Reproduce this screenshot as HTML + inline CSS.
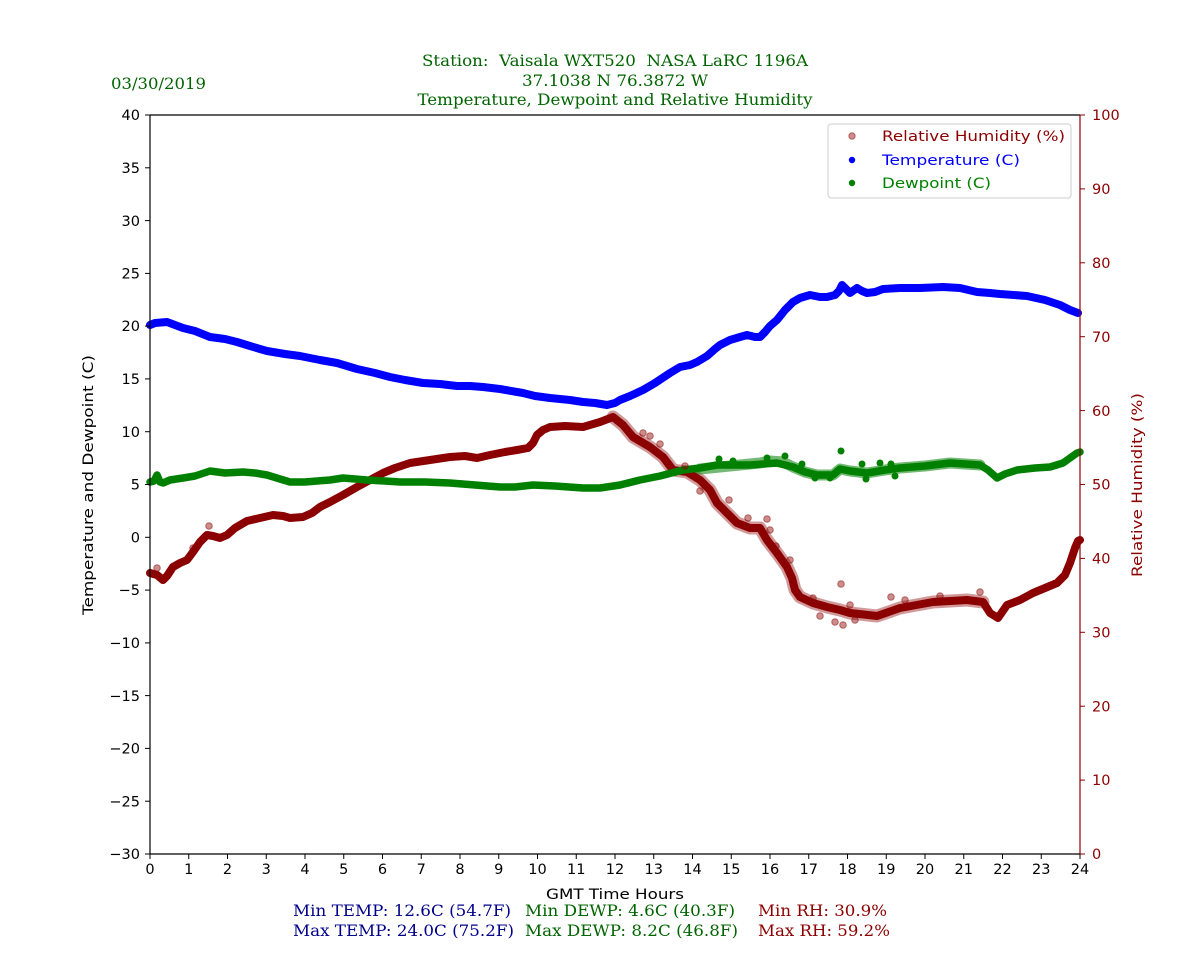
<!DOCTYPE html>
<html>
<head>
<meta charset="utf-8">
<style>
html,body{margin:0;padding:0;background:#fff;}
svg{display:block;}
.tk{font-family:"DejaVu Sans","Liberation Sans",sans-serif;font-size:14.5px;}
.sf{font-family:"DejaVu Serif","Liberation Serif",serif;font-size:16px;}
</style>
</head>
<body>
<svg width="1200" height="960" viewBox="0 0 1200 960" xmlns="http://www.w3.org/2000/svg">
<rect width="1200" height="960" fill="#fff"/>

<!-- Titles -->
<g class="sf" fill="#006400">
<text x="615" y="66" text-anchor="middle" textLength="386" lengthAdjust="spacingAndGlyphs">Station:&#160; Vaisala WXT520&#160; NASA LaRC 1196A</text>
<text x="615" y="86" text-anchor="middle" textLength="186" lengthAdjust="spacingAndGlyphs">37.1038 N 76.3872 W</text>
<text x="615" y="105" text-anchor="middle" textLength="395" lengthAdjust="spacingAndGlyphs">Temperature, Dewpoint and Relative Humidity</text>
<text x="111" y="89" textLength="95" lengthAdjust="spacingAndGlyphs">03/30/2019</text>
</g>

<!-- Data -->
<g fill="none" stroke-linejoin="round" stroke-linecap="round">
<!-- RH halo (noisy region) -->
<polyline stroke="#8B0000" stroke-opacity="0.4" stroke-width="13" points="613,417 623,425 633,437 650,447 663,457 673,470 687,472 700,480 710,490 717,503 727,513 737,523 750,528 760,528 767,540 777,553 787,567 792,578 795,590 800,597 813,603 827,607 840,610 850,613 877,616 900,608 933,602 967,600 983,602"/>
<!-- RH -->
<polyline stroke="#8B0000" stroke-width="8" points="150,573 157,575 163,580 167,576 173,567 180,563 187,560 193,552 200,542 207,535 213,536 220,538 227,535 235,528 247,521 260,518 273,515 283,516 290,518 303,517 312,513 320,507 330,502 343,495 357,487 370,480 383,473 395,468 410,463 430,460 450,457 465,456 477,458 490,455 505,452 517,450 528,448 533,443 537,435 543,430 550,427 565,426 583,427 600,422 613,417 623,425 633,437 650,447 663,457 673,470 687,472 700,480 710,490 717,503 727,513 737,523 750,528 760,528 767,540 777,553 787,567 792,578 795,590 800,597 813,603 827,607 840,610 850,613 877,616 900,608 933,602 967,600 983,602 990,613 998,618 1007,605 1020,600 1033,593 1045,588 1057,583 1065,575 1070,563 1075,548 1078,541 1080,540"/>
<!-- Dewpoint halo -->
<polyline stroke="#008000" stroke-opacity="0.55" stroke-width="11" points="700,469 730,466 760,463 770,461 783,462 793,467 805,472 817,475 833,475 840,469 850,471 867,473 885,470 900,468 925,466 950,463 980,465"/>
<!-- Dewpoint -->
<polyline stroke="#008000" stroke-width="7.5" points="150,482 154,481 157,475 160,482 163,483 170,480 183,478 195,476 210,471 225,473 243,472 255,473 267,475 280,479 290,482 305,482 317,481 330,480 343,478 355,479 367,480 385,481 400,482 425,482 450,483 475,485 500,487 515,487 533,485 555,486 583,488 600,488 620,485 640,480 660,476 683,470 700,468 717,465 750,465 777,463 793,467 805,472 817,475 833,475 840,469 850,471 867,473 885,470 900,468 925,466 950,463 980,465 988,470 997,478 1005,474 1017,470 1035,468 1050,467 1063,463 1070,458 1077,453 1080,452"/>
<!-- Temperature -->
<polyline stroke="#0000FF" stroke-width="8" points="150,325 155,323 167,322 175,325 183,328 195,331 210,337 225,339 237,342 250,346 260,349 267,351 285,354 300,356 320,360 337,363 347,366 357,369 375,373 390,377 405,380 423,383 440,384 457,386 470,386 483,387 500,389 523,393 535,396 550,398 570,400 583,402 595,403 607,405 615,403 620,400 630,396 643,390 655,383 670,373 680,367 690,365 697,362 707,356 715,349 720,345 730,340 740,337 747,335 755,337 760,337 765,332 770,326 777,320 785,310 793,302 800,298 810,295 820,297 827,297 835,295 839,291 842,285 846,289 850,293 857,288 862,291 867,293 875,292 883,289 900,288 920,288 943,287 960,288 977,292 990,293 1000,294 1027,296 1045,300 1060,305 1070,310 1078,313"/>
</g>
<!-- scatter extras -->
<g fill="#008000">
<circle cx="841" cy="451" r="3.5"/>
<circle cx="767" cy="458" r="3.5"/>
<circle cx="785" cy="456" r="3.5"/>
<circle cx="719" cy="459" r="3.5"/>
<circle cx="733" cy="461" r="3.5"/>
<circle cx="802" cy="464" r="3.5"/>
<circle cx="866" cy="479" r="3.5"/>
<circle cx="830" cy="478" r="3.5"/>
<circle cx="880" cy="463" r="3.5"/>
<circle cx="891" cy="464" r="3.5"/>
<circle cx="862" cy="464" r="3.5"/>
<circle cx="815" cy="478" r="3.5"/>
<circle cx="895" cy="476" r="3.5"/>
</g>
<g fill="#8B0000" fill-opacity="0.45" stroke="#8B0000" stroke-opacity="0.5" stroke-width="1">
<circle cx="157" cy="568" r="3.3"/>
<circle cx="209" cy="526" r="3.3"/>
<circle cx="193" cy="548" r="3.3"/>
<circle cx="841" cy="584" r="3.3"/>
<circle cx="843" cy="625" r="3.3"/>
<circle cx="729" cy="500" r="3.3"/>
<circle cx="643" cy="433" r="3.3"/>
<circle cx="650" cy="436" r="3.3"/>
<circle cx="891" cy="597" r="3.3"/>
<circle cx="980" cy="592" r="3.3"/>
<circle cx="835" cy="622" r="3.3"/>
<circle cx="855" cy="620" r="3.3"/>
<circle cx="820" cy="616" r="3.3"/>
<circle cx="748" cy="518" r="3.3"/>
<circle cx="767" cy="519" r="3.3"/>
<circle cx="685" cy="466" r="3.3"/>
<circle cx="660" cy="444" r="3.3"/>
<circle cx="813" cy="598" r="3.3"/>
<circle cx="905" cy="600" r="3.3"/>
<circle cx="790" cy="560" r="3.3"/>
<circle cx="776" cy="546" r="3.3"/>
<circle cx="770" cy="530" r="3.3"/>
<circle cx="700" cy="491" r="3.3"/>
<circle cx="850" cy="605" r="3.3"/>
<circle cx="940" cy="596" r="3.3"/>
</g>

<!-- Axes spines -->
<g stroke-width="1.2" fill="none">
<line x1="150" y1="115" x2="1080" y2="115" stroke="#000"/>
<line x1="150" y1="854" x2="1080" y2="854" stroke="#000"/>
<line x1="150" y1="115" x2="150" y2="854" stroke="#000"/>
<line x1="1080" y1="115" x2="1080" y2="854" stroke="#8B0000"/>
</g>

<!-- Left ticks -->
<g stroke="#000" stroke-width="1">
<line x1="145" x2="150" y1="115" y2="115"/>
<line x1="145" x2="150" y1="167.8" y2="167.8"/>
<line x1="145" x2="150" y1="220.6" y2="220.6"/>
<line x1="145" x2="150" y1="273.4" y2="273.4"/>
<line x1="145" x2="150" y1="326.1" y2="326.1"/>
<line x1="145" x2="150" y1="378.9" y2="378.9"/>
<line x1="145" x2="150" y1="431.7" y2="431.7"/>
<line x1="145" x2="150" y1="484.5" y2="484.5"/>
<line x1="145" x2="150" y1="537.3" y2="537.3"/>
<line x1="145" x2="150" y1="590.1" y2="590.1"/>
<line x1="145" x2="150" y1="642.9" y2="642.9"/>
<line x1="145" x2="150" y1="695.6" y2="695.6"/>
<line x1="145" x2="150" y1="748.4" y2="748.4"/>
<line x1="145" x2="150" y1="801.2" y2="801.2"/>
<line x1="145" x2="150" y1="854" y2="854"/>
</g>
<g class="tk" fill="#000" text-anchor="end">
<text x="140" y="120">40</text>
<text x="140" y="173">35</text>
<text x="140" y="226">30</text>
<text x="140" y="278.5">25</text>
<text x="140" y="331">20</text>
<text x="140" y="384">15</text>
<text x="140" y="437">10</text>
<text x="140" y="489.5">5</text>
<text x="140" y="542.5">0</text>
<text x="140" y="595">−5</text>
<text x="140" y="648">−10</text>
<text x="140" y="701">−15</text>
<text x="140" y="753.5">−20</text>
<text x="140" y="806.5">−25</text>
<text x="140" y="859">−30</text>
</g>

<!-- Right ticks -->
<g stroke="#8B0000" stroke-width="1">
<line x1="1080" x2="1085" y1="115" y2="115"/>
<line x1="1080" x2="1085" y1="188.9" y2="188.9"/>
<line x1="1080" x2="1085" y1="262.8" y2="262.8"/>
<line x1="1080" x2="1085" y1="336.7" y2="336.7"/>
<line x1="1080" x2="1085" y1="410.6" y2="410.6"/>
<line x1="1080" x2="1085" y1="484.5" y2="484.5"/>
<line x1="1080" x2="1085" y1="558.4" y2="558.4"/>
<line x1="1080" x2="1085" y1="632.3" y2="632.3"/>
<line x1="1080" x2="1085" y1="706.2" y2="706.2"/>
<line x1="1080" x2="1085" y1="780.1" y2="780.1"/>
<line x1="1080" x2="1085" y1="854" y2="854"/>
</g>
<g class="tk" fill="#8B0000">
<text x="1092" y="120">100</text>
<text x="1092" y="194">90</text>
<text x="1092" y="268">80</text>
<text x="1092" y="342">70</text>
<text x="1092" y="416">60</text>
<text x="1092" y="489.5">50</text>
<text x="1092" y="563.5">40</text>
<text x="1092" y="637.5">30</text>
<text x="1092" y="711.5">20</text>
<text x="1092" y="785">10</text>
<text x="1092" y="859">0</text>
</g>

<!-- Bottom ticks -->
<g stroke="#000" stroke-width="1">
<line y1="854" y2="859" x1="150" x2="150"/>
<line y1="854" y2="859" x1="188.75" x2="188.75"/>
<line y1="854" y2="859" x1="227.5" x2="227.5"/>
<line y1="854" y2="859" x1="266.25" x2="266.25"/>
<line y1="854" y2="859" x1="305" x2="305"/>
<line y1="854" y2="859" x1="343.75" x2="343.75"/>
<line y1="854" y2="859" x1="382.5" x2="382.5"/>
<line y1="854" y2="859" x1="421.25" x2="421.25"/>
<line y1="854" y2="859" x1="460" x2="460"/>
<line y1="854" y2="859" x1="498.75" x2="498.75"/>
<line y1="854" y2="859" x1="537.5" x2="537.5"/>
<line y1="854" y2="859" x1="576.25" x2="576.25"/>
<line y1="854" y2="859" x1="615" x2="615"/>
<line y1="854" y2="859" x1="653.75" x2="653.75"/>
<line y1="854" y2="859" x1="692.5" x2="692.5"/>
<line y1="854" y2="859" x1="731.25" x2="731.25"/>
<line y1="854" y2="859" x1="770" x2="770"/>
<line y1="854" y2="859" x1="808.75" x2="808.75"/>
<line y1="854" y2="859" x1="847.5" x2="847.5"/>
<line y1="854" y2="859" x1="886.25" x2="886.25"/>
<line y1="854" y2="859" x1="925" x2="925"/>
<line y1="854" y2="859" x1="963.75" x2="963.75"/>
<line y1="854" y2="859" x1="1002.5" x2="1002.5"/>
<line y1="854" y2="859" x1="1041.25" x2="1041.25"/>
<line y1="854" y2="859" x1="1080" x2="1080"/>
</g>
<g class="tk" fill="#000" text-anchor="middle">
<text x="150" y="874">0</text>
<text x="188.75" y="874">1</text>
<text x="227.5" y="874">2</text>
<text x="266.25" y="874">3</text>
<text x="305" y="874">4</text>
<text x="343.75" y="874">5</text>
<text x="382.5" y="874">6</text>
<text x="421.25" y="874">7</text>
<text x="460" y="874">8</text>
<text x="498.75" y="874">9</text>
<text x="537.5" y="874">10</text>
<text x="576.25" y="874">11</text>
<text x="615" y="874">12</text>
<text x="653.75" y="874">13</text>
<text x="692.5" y="874">14</text>
<text x="731.25" y="874">15</text>
<text x="770" y="874">16</text>
<text x="808.75" y="874">17</text>
<text x="847.5" y="874">18</text>
<text x="886.25" y="874">19</text>
<text x="925" y="874">20</text>
<text x="963.75" y="874">21</text>
<text x="1002.5" y="874">22</text>
<text x="1041.25" y="874">23</text>
<text x="1080" y="874">24</text>
</g>

<!-- Axis labels -->
<text class="tk" x="615" y="899" text-anchor="middle" fill="#000" textLength="138" lengthAdjust="spacingAndGlyphs">GMT Time Hours</text>
<text class="tk" transform="translate(93,485) rotate(-90)" text-anchor="middle" fill="#000" textLength="260" lengthAdjust="spacingAndGlyphs">Temperature and Dewpoint (C)</text>
<text class="tk" transform="translate(1142,485) rotate(-90)" text-anchor="middle" fill="#8B0000" textLength="184" lengthAdjust="spacingAndGlyphs">Relative Humidity (%)</text>

<!-- Legend -->
<rect x="828" y="124" width="243" height="74" rx="3" ry="3" fill="#fff" fill-opacity="0.8" stroke="#cccccc" stroke-width="1"/>
<circle cx="852" cy="136" r="3.2" fill="#8B0000" fill-opacity="0.45" stroke="#8B0000" stroke-opacity="0.5"/>
<circle cx="852" cy="160" r="3.2" fill="#0000FF"/>
<circle cx="852" cy="183" r="3.2" fill="#008000"/>
<g class="tk">
<text x="882" y="141" fill="#8B0000" textLength="183" lengthAdjust="spacingAndGlyphs">Relative Humidity (%)</text>
<text x="882" y="165" fill="#0000FF" textLength="138" lengthAdjust="spacingAndGlyphs">Temperature (C)</text>
<text x="882" y="188" fill="#008000" textLength="109" lengthAdjust="spacingAndGlyphs">Dewpoint (C)</text>
</g>

<!-- Stats -->
<g class="sf">
<text x="293" y="916" fill="#00008B" textLength="218" lengthAdjust="spacingAndGlyphs">Min TEMP: 12.6C (54.7F)</text>
<text x="293" y="936" fill="#00008B" textLength="221" lengthAdjust="spacingAndGlyphs">Max TEMP: 24.0C (75.2F)</text>
<text x="525" y="916" fill="#006400" textLength="210" lengthAdjust="spacingAndGlyphs">Min DEWP: 4.6C (40.3F)</text>
<text x="525" y="936" fill="#006400" textLength="213" lengthAdjust="spacingAndGlyphs">Max DEWP: 8.2C (46.8F)</text>
<text x="758" y="916" fill="#8B0000" textLength="129" lengthAdjust="spacingAndGlyphs">Min RH: 30.9%</text>
<text x="758" y="936" fill="#8B0000" textLength="132" lengthAdjust="spacingAndGlyphs">Max RH: 59.2%</text>
</g>
</svg>
</body>
</html>
